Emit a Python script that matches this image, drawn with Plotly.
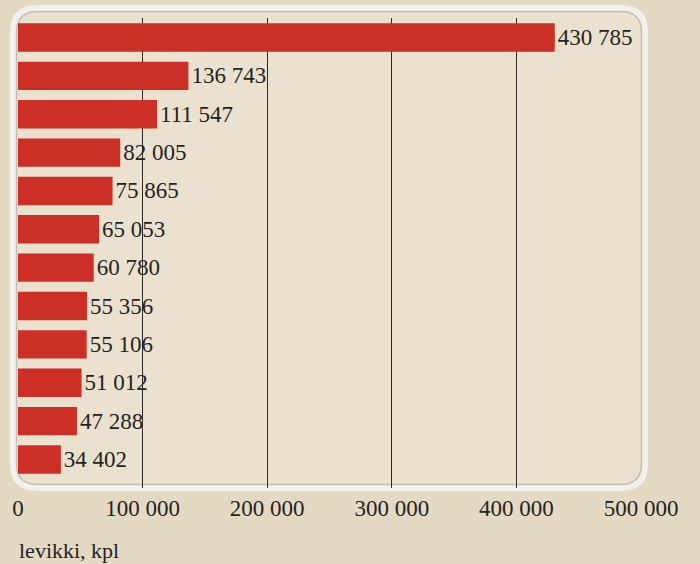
import plotly.graph_objects as go

# ---- data ----
values = [430785, 136743, 111547, 82005, 75865, 65053, 60780, 55356, 55106, 51012, 47288, 34402]
positions = list(range(len(values)))
value_labels = [f"{v:,}".replace(",", " ") for v in values]
tick_values = [0, 100000, 200000, 300000, 400000, 500000]
tick_labels = ["0", "100 000", "200 000", "300 000", "400 000", "500 000"]
axis_title = "levikki, kpl"

W, H = 700, 564
L, R, T, B = 18, 59, 18, 76
pw, ph = W - L - R, H - T - B

def px_to_paper(x, y):
    return (x - L) / pw, (H - B - y) / ph

def rounded_rect(x0, y0, x1, y1, r):
    def P(x, y):
        px, py = px_to_paper(x, y)
        return f"{px:.5f},{py:.5f}"
    d = f"M {P(x0 + r, y0)} L {P(x1 - r, y0)} Q {P(x1, y0)} {P(x1, y0 + r)} "
    d += f"L {P(x1, y1 - r)} Q {P(x1, y1)} {P(x1 - r, y1)} "
    d += f"L {P(x0 + r, y1)} Q {P(x0, y1)} {P(x0, y1 - r)} "
    d += f"L {P(x0, y0 + r)} Q {P(x0, y0)} {P(x0 + r, y0)} Z"
    return d

FONT = "Liberation Serif"
TXT = "#26221f"

fig = go.Figure(go.Bar(
    x=values, y=positions, orientation="h",
    marker=dict(color="#cb2f26", line=dict(width=0)),
    width=0.74,
    text=value_labels, textposition="outside", cliponaxis=False,
    textfont=dict(family=FONT, size=23, color=TXT),
    hoverinfo="skip",
))

shapes = [
    dict(type="path", xref="paper", yref="paper", layer="below",
         path=rounded_rect(13, 8, 645, 488, 24),
         fillcolor="rgba(245,240,228,0.35)",
         line=dict(color="#f3f1ed", width=6)),
    dict(type="path", xref="paper", yref="paper", layer="below",
         path=rounded_rect(16.5, 11.5, 641.5, 484.5, 21),
         fillcolor="rgba(0,0,0,0)",
         line=dict(color="rgba(175,165,155,0.6)", width=1.5)),
]

fig.update_layout(
    width=W, height=H,
    margin=dict(l=L, r=R, t=T, b=B),
    paper_bgcolor="#e4dac3",
    plot_bgcolor="rgba(0,0,0,0)",
    showlegend=False,
    shapes=shapes,
    font=dict(family=FONT, size=23, color=TXT),
    xaxis=dict(
        range=[0, 500000], tickvals=tick_values, ticktext=tick_labels,
        showgrid=True, gridcolor="#2e2a26", gridwidth=1,
        zeroline=False, showline=False, ticks="",
        ticklabelstandoff=4,
        tickfont=dict(family=FONT, size=23, color=TXT),
        fixedrange=True,
    ),
    yaxis=dict(
        range=[11.743, -0.508], showticklabels=False, showgrid=False,
        zeroline=False, showline=False, ticks="", fixedrange=True,
    ),
    annotations=[dict(
        text=axis_title, xref="paper", yref="paper",
        x=px_to_paper(17, 0)[0], y=px_to_paper(0, 550)[1],
        xanchor="left", yanchor="middle", showarrow=False,
        font=dict(family=FONT, size=22, color=TXT),
    )],
)

fig.write_html(
    "out.html",
    config={"displayModeBar": False},
    post_script="document.body.style.margin='0';document.body.style.background='#e4dac3';",
)
